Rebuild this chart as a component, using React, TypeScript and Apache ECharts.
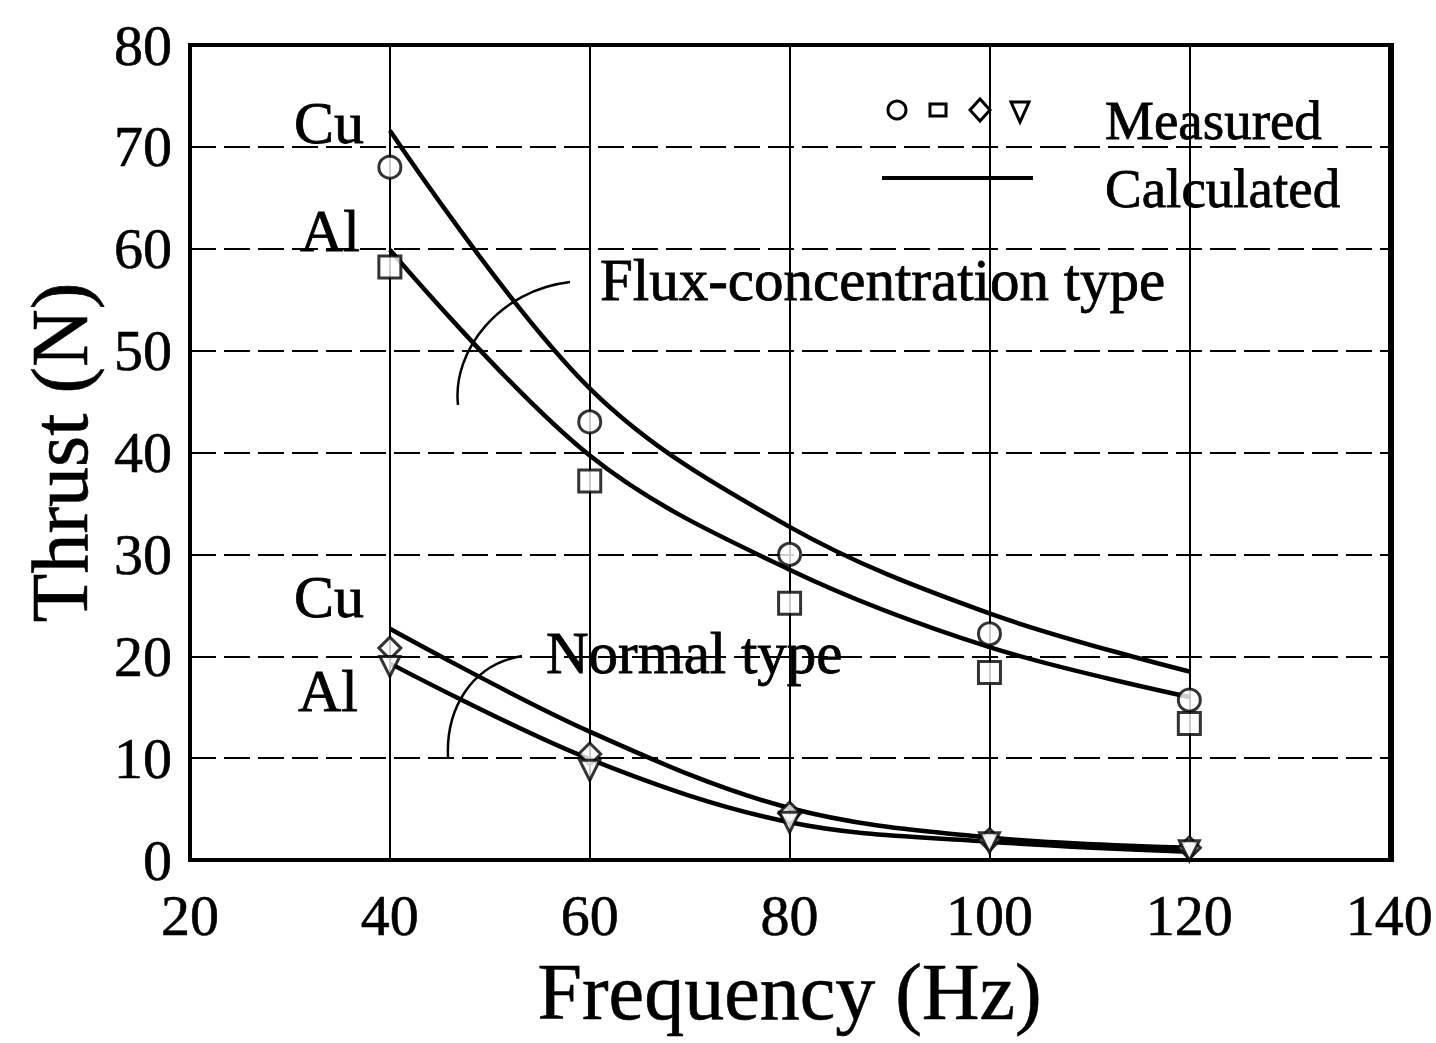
import React, { useEffect, useRef } from "react";
import * as echarts from "echarts";

const freq = [40, 60, 80, 100, 120];
const fluxCuMeasured = [68, 43, 30, 22.2, 15.7];
const fluxAlMeasured = [58.2, 37.2, 25.2, 18.4, 13.4];
const normalCuMeasured = [20.8, 10.4, 4.6, 2.0, 1.2];
const normalAlMeasured = [19.0, 8.8, 3.7, 1.7, 0.9];
const fluxCuCalc = [71.6, 46.3, 32.7, 24.2, 18.5];
const fluxAlCalc = [59.9, 39.7, 28.5, 20.9, 16.0];
const normalCuCalc = [22.7, 12.6, 5.1, 2.2, 1.2];
const normalAlCalc = [19.3, 9.9, 3.7, 1.8, 0.8];

const FONT = "Liberation Serif";

function pairs(ys: number[]) {
  return freq.map((x, i) => [x, ys[i]]);
}

export default function App() {
  const ref = useRef<HTMLDivElement>(null);
  useEffect(() => {
    if (!ref.current) return;
    const chart = echarts.init(ref.current, null, { renderer: "svg" });
    const lineStyle = { color: "#000", width: 4.5 };
    const calc = (name: string, ys: number[]) => ({
      name,
      type: "line",
      data: pairs(ys),
      smooth: 0.35,
      showSymbol: false,
      lineStyle,
      z: 2,
    });
    const meas = (name: string, ys: number[], symbol: string, size: number, rotate = 0) => ({
      name,
      type: "scatter",
      data: pairs(ys),
      symbol,
      symbolSize: size,
      symbolRotate: rotate,
      itemStyle: { color: "#fff", borderColor: "#000", borderWidth: 3 },
      z: 3,
    });
    const txt = (text: string, x: number, y: number, size = 59) => ({
      type: "text",
      x,
      y: y + 11,
      style: {
        text,
        font: `${size}px "${FONT}"`,
        fill: "#000",
        stroke: "#000",
        lineWidth: 0.8,
        textVerticalAlign: "bottom",
      },
      z: 10,
    });
    const labelStyle = {
      fontFamily: FONT,
      fontSize: 58,
      color: "#000",
      textBorderColor: "#000",
      textBorderWidth: 0.6,
    };
    const nameStyle = {
      fontFamily: FONT,
      fontSize: 80,
      color: "#000",
      textBorderColor: "#000",
      textBorderWidth: 0.6,
    };
    chart.setOption({
      animation: false,
      backgroundColor: "#fff",
      grid: { left: 190, right: 44, top: 45, bottom: 183 },
      xAxis: {
        type: "value",
        min: 20,
        max: 140,
        interval: 20,
        name: "Frequency (Hz)",
        nameLocation: "middle",
        nameGap: 92,
        nameTextStyle: nameStyle,
        axisLine: { show: true, lineStyle: { color: "#000", width: 4 } },
        axisTick: { show: false },
        axisLabel: { ...labelStyle, margin: 26 },
        splitLine: { show: true, lineStyle: { color: "#000", width: 2 } },
      },
      yAxis: {
        type: "value",
        min: 0,
        max: 80,
        interval: 10,
        name: "Thrust (N)",
        nameLocation: "middle",
        nameGap: 90,
        nameTextStyle: nameStyle,
        axisLine: { show: true, lineStyle: { color: "#000", width: 4 } },
        axisTick: { show: false },
        axisLabel: { ...labelStyle, margin: 18 },
        splitLine: { show: true, lineStyle: { color: "#000", width: 2, type: [26, 8] } },
      },
      series: [
        calc("Flux Cu calculated", fluxCuCalc),
        calc("Flux Al calculated", fluxAlCalc),
        calc("Normal Cu calculated", normalCuCalc),
        calc("Normal Al calculated", normalAlCalc),
        meas("Flux Cu measured", fluxCuMeasured, "circle", 22),
        meas("Flux Al measured", fluxAlMeasured, "rect", 22),
        meas("Normal Cu measured", normalCuMeasured, "diamond", 22),
        meas("Normal Al measured", normalAlMeasured, "triangle", 20, 180),
      ],
      graphic: [
        {
          type: "rect",
          shape: { x: 190, y: 45, width: 1202, height: 815 },
          style: { fill: "none", stroke: "#000", lineWidth: 4 },
          z: 9,
        },
        txt("Cu", 294, 142, 60),
        txt("Al", 300, 250, 60),
        txt("Flux-concentration type", 600, 298),
        txt("Cu", 294, 616, 60),
        txt("Al", 298, 710, 60),
        txt("Normal type", 546, 671),
        txt("Measured", 1105, 137, 55),
        txt("Calculated", 1105, 205, 55),
        {
          type: "circle",
          shape: { cx: 897, cy: 110, r: 9 },
          style: { fill: "#fff", stroke: "#000", lineWidth: 3 },
          z: 10,
        },
        {
          type: "rect",
          shape: { x: 930, y: 104, width: 16, height: 12 },
          style: { fill: "#fff", stroke: "#000", lineWidth: 3 },
          z: 10,
        },
        {
          type: "polygon",
          shape: { points: [[980, 99], [990, 110], [980, 121], [970, 110]] },
          style: { fill: "#fff", stroke: "#000", lineWidth: 3 },
          z: 10,
        },
        {
          type: "polygon",
          shape: { points: [[1011, 102], [1029, 102], [1020, 122]] },
          style: { fill: "#fff", stroke: "#000", lineWidth: 3 },
          z: 10,
        },
        {
          type: "line",
          shape: { x1: 882, y1: 178, x2: 1033, y2: 178 },
          style: { stroke: "#000", lineWidth: 4 },
          z: 10,
        },
        {
          type: "bezierCurve",
          shape: { x1: 570, y1: 282, cpx1: 500, cpy1: 290, cpx2: 452, cpy2: 350, x2: 458, y2: 405 },
          style: { stroke: "#000", lineWidth: 2.5, fill: "none" },
          z: 10,
        },
        {
          type: "bezierCurve",
          shape: { x1: 522, y1: 656, cpx1: 470, cpy1: 665, cpx2: 446, cpy2: 710, x2: 448, y2: 757 },
          style: { stroke: "#000", lineWidth: 2.5, fill: "none" },
          z: 10,
        },
      ],
    });
    return () => chart.dispose();
  }, []);
  return <div ref={ref} style={{ width: 1436, height: 1043, position: "absolute", left: 0, top: 0 }} />;
}
